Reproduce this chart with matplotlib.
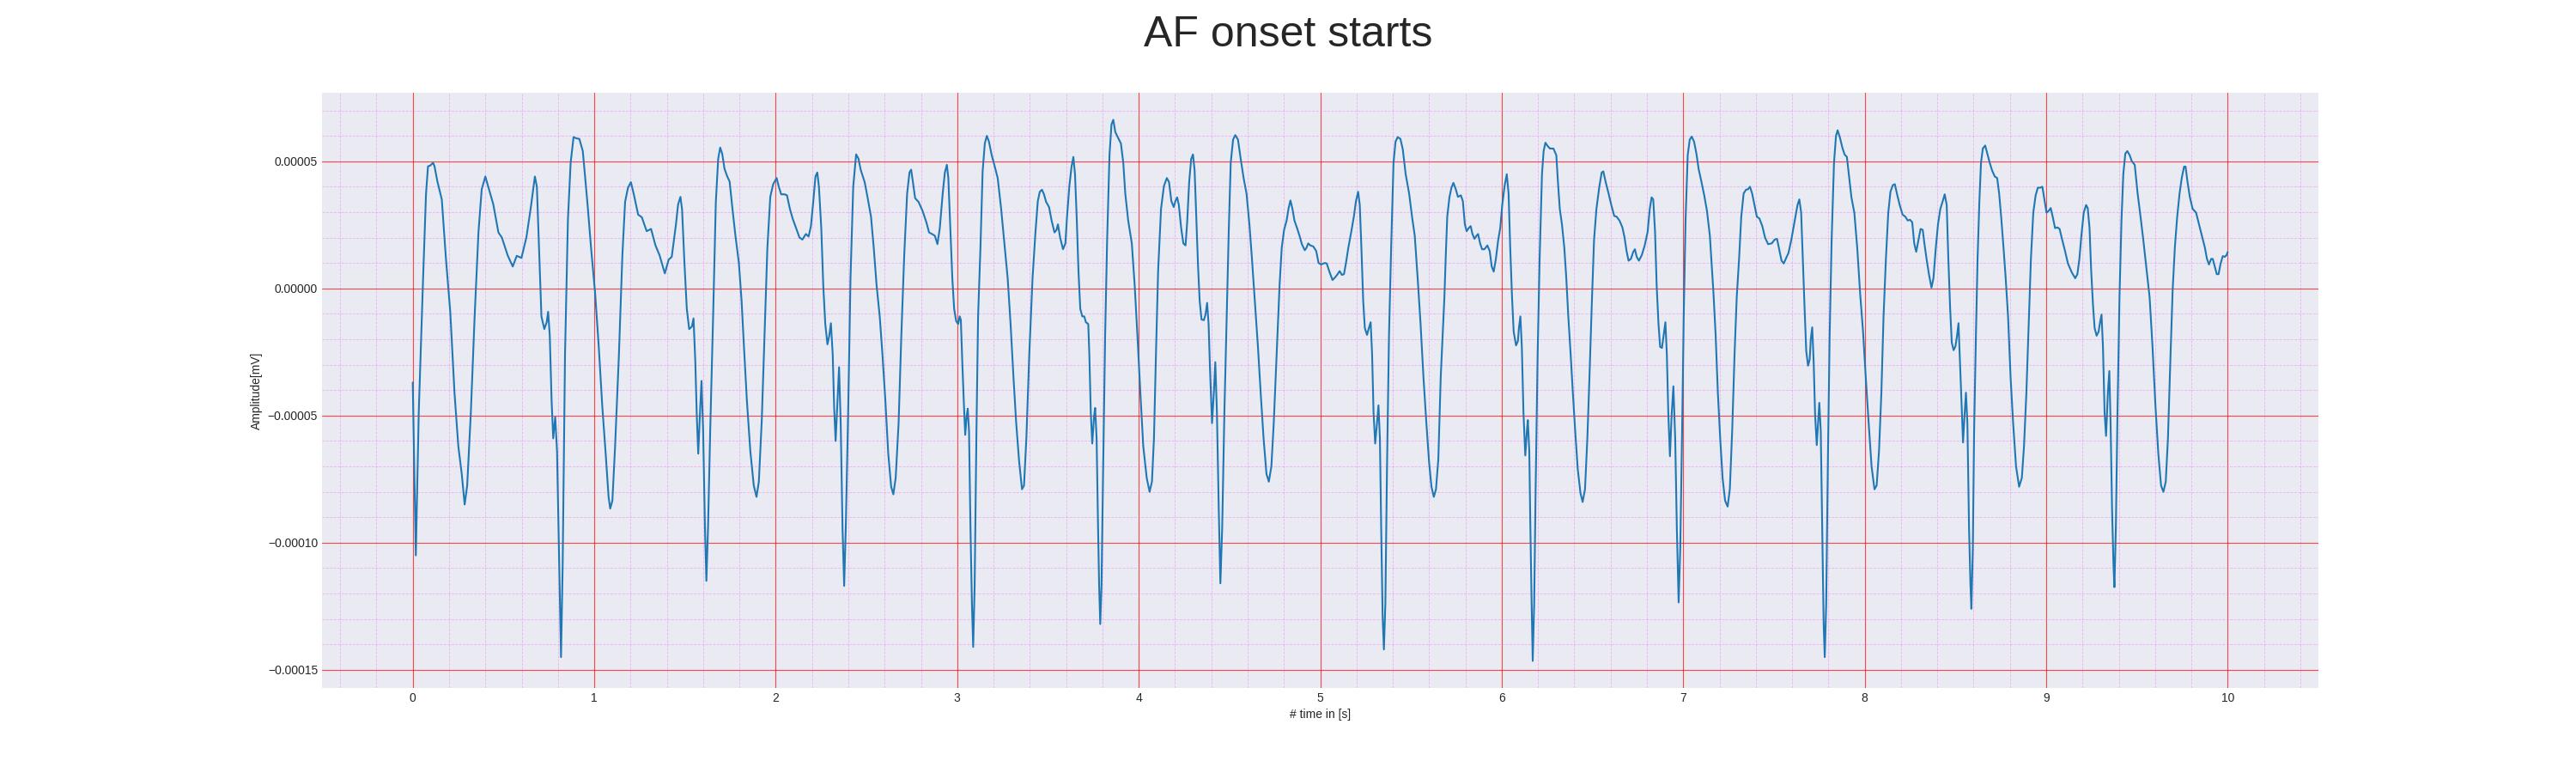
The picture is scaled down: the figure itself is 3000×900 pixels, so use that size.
import numpy as np
from matplotlib import pyplot

# 時間 [s]
time_s = [
    0.000, 0.017, 0.033, 0.057, 0.073, 0.084, 0.096, 0.112, 0.120, 0.136,
    0.160, 0.183, 0.207, 0.230, 0.251, 0.270, 0.286, 0.300, 0.320, 0.341,
    0.362, 0.380, 0.400, 0.420, 0.444, 0.472, 0.491, 0.523, 0.551, 0.573,
    0.599, 0.626, 0.649, 0.673, 0.684, 0.697, 0.709, 0.725, 0.738, 0.746,
    0.755, 0.765, 0.774, 0.785, 0.795, 0.807, 0.817, 0.826, 0.839, 0.855,
    0.870, 0.886, 0.902, 0.918, 0.937, 0.962, 0.984, 1.005, 1.025, 1.044,
    1.063, 1.079, 1.088, 1.100, 1.115, 1.136, 1.155, 1.170, 1.186, 1.202,
    1.218, 1.242, 1.262, 1.289, 1.313, 1.337, 1.360, 1.389, 1.410, 1.427,
    1.450, 1.462, 1.475, 1.484, 1.497, 1.510, 1.523, 1.538, 1.547, 1.557,
    1.565, 1.573, 1.582, 1.591, 1.600, 1.610, 1.618, 1.627, 1.639, 1.655,
    1.670, 1.683, 1.694, 1.705, 1.718, 1.733, 1.746, 1.762, 1.778, 1.797,
    1.812, 1.825, 1.841, 1.860, 1.879, 1.894, 1.907, 1.923, 1.938, 1.954,
    1.970, 1.986, 2.005, 2.017, 2.030, 2.049, 2.062, 2.077, 2.093, 2.112,
    2.131, 2.147, 2.166, 2.181, 2.194, 2.207, 2.219, 2.229, 2.238, 2.251,
    2.262, 2.273, 2.285, 2.295, 2.304, 2.314, 2.322, 2.330, 2.339, 2.349,
    2.358, 2.368, 2.377, 2.386, 2.399, 2.412, 2.427, 2.443, 2.456, 2.468,
    2.490, 2.506, 2.525, 2.540, 2.556, 2.573, 2.588, 2.604, 2.620, 2.636,
    2.648, 2.661, 2.677, 2.692, 2.708, 2.724, 2.737, 2.746, 2.756, 2.768,
    2.787, 2.809, 2.830, 2.845, 2.861, 2.877, 2.891, 2.904, 2.920, 2.932,
    2.943, 2.951, 2.962, 2.973, 2.983, 2.994, 3.005, 3.014, 3.020, 3.028,
    3.036, 3.044, 3.052, 3.058, 3.065, 3.073, 3.081, 3.088, 3.096, 3.106,
    3.115, 3.128, 3.140, 3.152, 3.163, 3.175, 3.190, 3.207, 3.223, 3.242,
    3.262, 3.278, 3.294, 3.310, 3.325, 3.341, 3.357, 3.368, 3.381, 3.397,
    3.415, 3.431, 3.444, 3.455, 3.467, 3.478, 3.490, 3.506, 3.520, 3.536,
    3.547, 3.555, 3.567, 3.583, 3.596, 3.605, 3.618, 3.630, 3.640, 3.649,
    3.659, 3.668, 3.678, 3.689, 3.700, 3.709, 3.722, 3.728, 3.736, 3.744,
    3.754, 3.760, 3.768, 3.776, 3.782, 3.788, 3.795, 3.804, 3.815, 3.826,
    3.839, 3.850, 3.860, 3.871, 3.883, 3.902, 3.915, 3.926, 3.942, 3.962,
    3.978, 3.994, 4.009, 4.025, 4.044, 4.060, 4.073, 4.084, 4.095, 4.107,
    4.123, 4.139, 4.155, 4.167, 4.180, 4.193, 4.202, 4.212, 4.221, 4.234,
    4.246, 4.258, 4.267, 4.278, 4.289, 4.299, 4.308, 4.317, 4.327, 4.336,
    4.346, 4.359, 4.368, 4.377, 4.385, 4.393, 4.404, 4.414, 4.422, 4.431,
    4.441, 4.450, 4.460, 4.472, 4.485, 4.496, 4.507, 4.520, 4.532, 4.547,
    4.562, 4.578, 4.594, 4.610, 4.624, 4.640, 4.657, 4.672, 4.688, 4.704,
    4.717, 4.731, 4.744, 4.760, 4.776, 4.788, 4.801, 4.815, 4.826, 4.836,
    4.847, 4.858, 4.874, 4.886, 4.899, 4.915, 4.924, 4.934, 4.946, 4.962,
    4.978, 4.991, 5.005, 5.025, 5.036, 5.052, 5.068, 5.084, 5.096, 5.107,
    5.120, 5.131, 5.142, 5.155, 5.171, 5.186, 5.197, 5.209, 5.218, 5.227,
    5.237, 5.246, 5.258, 5.268, 5.278, 5.286, 5.294, 5.303, 5.313, 5.321,
    5.329, 5.336, 5.344, 5.351, 5.359, 5.368, 5.379, 5.392, 5.404, 5.415,
    5.427, 5.442, 5.455, 5.471, 5.490, 5.506, 5.521, 5.537, 5.553, 5.569,
    5.585, 5.600, 5.613, 5.626, 5.638, 5.651, 5.664, 5.676, 5.684, 5.692,
    5.700, 5.712, 5.723, 5.734, 5.747, 5.759, 5.775, 5.786, 5.797, 5.807,
    5.818, 5.829, 5.839, 5.850, 5.861, 5.870, 5.881, 5.892, 5.905, 5.921,
    5.934, 5.945, 5.956, 5.968, 5.981, 5.992, 6.003, 6.016, 6.028, 6.038,
    6.047, 6.057, 6.066, 6.079, 6.089, 6.095, 6.103, 6.111, 6.120, 6.130,
    6.139, 6.144, 6.152, 6.158, 6.165, 6.171, 6.179, 6.187, 6.198, 6.209,
    6.222, 6.231, 6.241, 6.253, 6.266, 6.285, 6.301, 6.310, 6.320, 6.332,
    6.345, 6.356, 6.367, 6.380, 6.392, 6.405, 6.419, 6.434, 6.446, 6.459,
    6.472, 6.484, 6.497, 6.509, 6.522, 6.538, 6.551, 6.560, 6.573, 6.589,
    6.604, 6.620, 6.633, 6.649, 6.665, 6.677, 6.688, 6.699, 6.712, 6.725,
    6.734, 6.744, 6.756, 6.772, 6.788, 6.804, 6.816, 6.826, 6.835, 6.845,
    6.854, 6.864, 6.873, 6.883, 6.892, 6.902, 6.910, 6.918, 6.927, 6.937,
    6.946, 6.956, 6.965, 6.975, 6.984, 6.994, 7.003, 7.013, 7.025, 7.036,
    7.047, 7.060, 7.073, 7.085, 7.101, 7.116, 7.131, 7.147, 7.167, 7.179,
    7.191, 7.204, 7.217, 7.231, 7.245, 7.257, 7.270, 7.283, 7.295, 7.308,
    7.320, 7.333, 7.346, 7.357, 7.368, 7.380, 7.393, 7.406, 7.420, 7.436,
    7.451, 7.468, 7.488, 7.504, 7.517, 7.529, 7.542, 7.554, 7.567, 7.580,
    7.596, 7.615, 7.630, 7.640, 7.650, 7.659, 7.669, 7.678, 7.688, 7.697,
    7.703, 7.711, 7.719, 7.727, 7.736, 7.744, 7.750, 7.758, 7.766, 7.774,
    7.780, 7.788, 7.798, 7.807, 7.818, 7.831, 7.842, 7.851, 7.864, 7.877,
    7.889, 7.902, 7.915, 7.927, 7.943, 7.959, 7.975, 7.991, 8.006, 8.022,
    8.038, 8.054, 8.066, 8.079, 8.092, 8.104, 8.117, 8.130, 8.142, 8.155,
    8.166, 8.180, 8.193, 8.209, 8.224, 8.237, 8.250, 8.262, 8.273, 8.284,
    8.297, 8.308, 8.320, 8.329, 8.341, 8.354, 8.368, 8.379, 8.392, 8.404,
    8.417, 8.430, 8.441, 8.452, 8.461, 8.471, 8.480, 8.490, 8.500, 8.509,
    8.517, 8.525, 8.535, 8.542, 8.550, 8.558, 8.566, 8.575, 8.583, 8.588,
    8.596, 8.603, 8.613, 8.622, 8.632, 8.641, 8.651, 8.664, 8.676, 8.689,
    8.702, 8.717, 8.730, 8.741, 8.752, 8.765, 8.777, 8.790, 8.804, 8.818,
    8.834, 8.851, 8.866, 8.878, 8.891, 8.904, 8.916, 8.929, 8.942, 8.954,
    8.967, 8.979, 8.992, 9.002, 9.014, 9.025, 9.036, 9.049, 9.062, 9.074,
    9.088, 9.104, 9.120, 9.141, 9.160, 9.172, 9.183, 9.194, 9.207, 9.220,
    9.229, 9.239, 9.248, 9.258, 9.267, 9.278, 9.289, 9.297, 9.305, 9.313,
    9.322, 9.330, 9.340, 9.348, 9.355, 9.363, 9.371, 9.376, 9.384, 9.393,
    9.404, 9.415, 9.425, 9.436, 9.447, 9.460, 9.472, 9.488, 9.504, 9.520,
    9.535, 9.554, 9.570, 9.586, 9.602, 9.618, 9.633, 9.646, 9.659, 9.671,
    9.684, 9.697, 9.709, 9.722, 9.735, 9.747, 9.760, 9.768, 9.779, 9.792,
    9.807, 9.826, 9.842, 9.858, 9.874, 9.886, 9.897, 9.909, 9.918, 9.929,
    9.940, 9.950, 9.960, 9.973, 9.984, 9.994, 10.000,
]

# 振幅 [1e-5 mV]
amp_1e5 = [
    -3.7, -10.5, -4.9, 0.4, 3.7, 4.8, 4.83, 4.94, 4.8, 4.2,
    3.5, 1.16, -0.95, -4.1, -6.2, -7.3, -8.5, -7.75, -4.9, -1.1,
    2.2, 3.9, 4.4, 3.9, 3.3, 2.2, 2.0, 1.3, 0.86, 1.28,
    1.2, 2.0, 3.1, 4.4, 4.0, 1.3, -1.1, -1.6, -1.33, -0.92,
    -1.86, -4.4, -5.9, -5.06, -6.4, -10.9, -14.5, -10.9, -2.6, 2.7,
    4.94, 5.95, 5.9, 5.88, 5.4, 3.4, 1.47, -0.2, -2.3, -4.6,
    -6.5, -8.2, -8.66, -8.35, -6.2, -2.6, 1.3, 3.4, 3.96, 4.18,
    3.7, 2.9, 2.8, 2.25, 2.34, 1.7, 1.3, 0.59, 1.13, 1.24,
    2.5, 3.3, 3.6, 3.1, 1.0, -0.8, -1.6, -1.5, -1.18, -2.9,
    -5.0, -6.5, -5.0, -3.64, -5.6, -9.4, -11.5, -9.4, -5.6, -1.1,
    3.4, 5.1, 5.54, 5.3, 4.7, 4.4, 4.2, 3.1, 2.07, 1.0,
    -0.5, -2.3, -4.4, -6.4, -7.75, -8.2, -7.6, -5.2, -1.86, 1.6,
    3.6, 4.1, 4.34, 4.0, 3.7, 3.7, 3.66, 3.16, 2.75, 2.37,
    2.0, 1.92, 2.14, 2.04, 2.45, 3.43, 4.4, 4.56, 4.0, 2.37,
    0.1, -1.4, -2.2, -1.86, -1.37, -2.6, -4.7, -6.0, -4.6, -3.1,
    -5.3, -9.4, -11.7, -9.4, -4.9, 0.4, 4.0, 5.27, 5.1, 4.67,
    4.18, 3.58, 2.82, 1.6, 0.1, -1.1, -2.6, -4.4, -6.5, -7.8,
    -8.1, -7.45, -5.3, -1.86, 1.3, 3.73, 4.56, 4.67, 4.18, 3.55,
    3.4, 3.05, 2.6, 2.2, 2.14, 2.07, 1.74, 2.37, 3.73, 4.56,
    4.86, 4.34, 2.37, 0.4, -0.8, -1.28, -1.4, -1.1, -1.25, -2.9,
    -4.4, -5.76, -5.03, -4.73, -5.6, -9.4, -12.4, -14.1, -11.7, -5.6,
    -1.1, 1.6, 4.6, 5.7, 6.0, 5.77, 5.24, 4.79, 4.34, 3.13,
    1.6, 0.4, -1.4, -3.5, -5.3, -6.8, -7.9, -7.75, -5.9, -2.6,
    0.4, 2.2, 3.43, 3.8, 3.88, 3.7, 3.4, 3.2, 2.67, 2.2,
    2.3, 2.52, 2.0, 1.54, 1.77, 2.82, 4.03, 4.79, 5.17, 4.49,
    2.67, 0.7, -0.8, -1.1, -1.1, -1.33, -1.4, -2.6, -4.9, -6.1,
    -5.03, -4.7, -5.9, -9.4, -11.7, -13.2, -11.7, -7.1, -1.86, 1.9,
    5.24, 6.45, 6.63, 6.15, 5.97, 5.7, 4.94, 3.73, 2.67, 1.77,
    0.1, -2.0, -4.1, -6.2, -7.45, -8.0, -7.6, -5.9, -2.6, 0.7,
    3.13, 4.03, 4.34, 4.18, 3.43, 3.2, 3.43, 3.58, 3.28, 2.37,
    1.77, 1.69, 2.6, 4.18, 5.09, 5.27, 4.64, 2.82, 0.86, -0.5,
    -1.22, -1.25, -1.03, -0.57, -1.4, -3.2, -5.3, -4.1, -2.9, -4.9,
    -8.66, -11.6, -9.4, -4.9, -1.1, 2.22, 4.94, 5.85, 6.03, 5.85,
    5.09, 4.34, 3.73, 2.52, 1.16, -0.5, -2.3, -4.1, -5.9, -7.3,
    -7.6, -7.0, -5.3, -2.6, 0.1, 1.6, 2.3, 2.67, 3.16, 3.46,
    3.13, 2.67, 2.34, 2.07, 1.74, 1.5, 1.59, 1.77, 1.69, 1.65,
    1.47, 1.0, 0.94, 1.0, 0.98, 0.63, 0.33, 0.45, 0.56, 0.68,
    0.53, 0.56, 1.0, 1.6, 2.22, 2.85, 3.43, 3.8, 3.28, 1.6,
    -0.5, -1.56, -1.83, -1.56, -1.33, -2.6, -4.9, -6.1, -5.3, -4.6,
    -5.9, -9.4, -12.9, -14.2, -12.4, -7.1, -1.86, 1.9, 4.94, 5.77,
    5.95, 5.88, 5.47, 4.49, 3.73, 2.82, 2.07, 0.4, -1.4, -3.5,
    -5.3, -6.84, -7.8, -8.2, -7.9, -6.7, -3.5, -1.6, -0.4, 1.3,
    2.82, 3.58, 3.96, 4.15, 3.9, 3.6, 3.66, 3.43, 2.52, 2.25,
    2.37, 2.45, 2.14, 1.95, 2.07, 2.14, 1.77, 1.54, 1.54, 1.69,
    1.47, 0.86, 0.66, 1.16, 1.92, 2.37, 3.28, 4.03, 4.49, 3.73,
    1.6, -0.35, -1.7, -2.24, -2.08, -1.56, -1.1, -2.3, -4.9, -6.57,
    -5.6, -5.18, -6.4, -9.4, -12.4, -14.65, -12.4, -7.9, -2.6, 1.16,
    4.49, 5.4, 5.73, 5.6, 5.5, 5.5, 5.24, 4.18, 3.13, 2.52,
    1.6, 0.4, -1.1, -2.6, -4.1, -5.6, -7.1, -8.05, -8.4, -7.9,
    -5.9, -3.4, -0.5, 1.92, 3.13, 4.0, 4.56, 4.6, 4.18, 3.73,
    3.28, 2.85, 2.82, 2.67, 2.4, 2.0, 1.47, 1.09, 1.16, 1.44,
    1.54, 1.24, 1.09, 1.31, 1.69, 2.22, 3.13, 3.58, 3.5, 2.22,
    0.1, -1.4, -2.3, -2.34, -1.86, -1.33, -2.6, -4.9, -6.6, -4.9,
    -3.85, -5.9, -9.4, -12.35, -10.2, -5.6, -1.1, 2.67, 5.24, 5.85,
    5.97, 5.77, 5.3, 4.7, 4.18, 3.66, 3.05, 2.07, -0.2, -1.86,
    -4.1, -5.9, -7.45, -8.35, -8.58, -7.9, -5.6, -2.6, -0.35, 1.16,
    2.82, 3.73, 3.88, 3.9, 4.0, 3.73, 3.28, 2.82, 2.75, 2.45,
    2.0, 1.74, 1.77, 1.92, 1.95, 1.54, 1.09, 0.98, 1.19, 1.39,
    1.92, 2.67, 3.28, 3.5, 2.98, 1.16, -0.8, -2.46, -3.04, -2.8,
    -2.0, -1.53, -2.9, -5.0, -6.16, -5.18, -4.5, -5.6, -9.4, -13.2,
    -14.5, -12.4, -6.4, -1.86, 1.92, 4.94, 6.0, 6.22, 5.92, 5.54,
    5.27, 5.17, 4.34, 3.58, 2.98, 1.6, -0.2, -1.7, -3.5, -5.3,
    -7.0, -7.9, -7.75, -6.4, -4.1, -1.1, 1.16, 2.98, 3.8, 4.06,
    4.1, 3.66, 3.28, 2.9, 2.82, 2.67, 2.7, 2.6, 1.77, 1.44,
    1.92, 2.34, 2.3, 1.77, 1.16, 0.56, 0.03, 0.4, 1.6, 2.52,
    3.13, 3.43, 3.7, 3.28, 1.16, -0.8, -2.13, -2.43, -2.28, -1.86,
    -1.37, -2.9, -4.9, -6.06, -5.03, -4.1, -5.3, -9.4, -11.7, -12.6,
    -10.2, -5.6, -1.86, 1.16, 3.43, 4.94, 5.5, 5.62, 5.3, 4.94,
    4.64, 4.4, 4.34, 3.73, 2.82, 1.6, 0.4, -1.1, -3.5, -5.3,
    -7.0, -7.8, -7.45, -6.2, -4.1, -1.4, 1.16, 2.98, 3.66, 3.96,
    3.96, 4.0, 3.43, 2.98, 3.05, 3.16, 2.82, 2.37, 2.4, 2.34,
    1.92, 1.47, 0.98, 0.63, 0.4, 0.56, 1.16, 2.07, 2.98, 3.28,
    3.16, 2.37, 0.7, -0.65, -1.56, -1.86, -1.7, -1.33, -1.03, -2.3,
    -4.9, -5.8, -4.1, -3.25, -5.3, -8.66, -10.9, -11.75, -9.4, -4.9,
    -0.35, 2.67, 4.49, 5.3, 5.4, 5.24, 5.0, 4.86, 3.73, 2.82,
    1.92, 0.7, -0.35, -2.3, -4.6, -6.5, -7.75, -8.0, -7.6, -5.9,
    -2.9, -0.05, 1.6, 2.82, 3.73, 4.34, 4.79, 4.79, 4.18, 3.58,
    3.13, 2.98, 2.52, 2.07, 1.62, 1.16, 0.94, 1.16, 1.16, 0.86,
    0.56, 0.56, 0.94, 1.27, 1.24, 1.31, 1.43,
]

# x軸の目盛り
x_ticks = list(range(0, 11))


def make_graph():
    pyplot.style.use("seaborn-v0_8-darkgrid")

    t = np.array(time_s)
    amp = np.array(amp_1e5) * 1e-5

    fig = pyplot.figure(figsize=(30, 9), dpi=100)
    ax = fig.add_subplot(1, 1, 1)
    ax.plot(t, amp)

    # グリッドの設定
    ax.set_xticks(x_ticks)
    ax.minorticks_on()
    ax.grid(which="major", linestyle="-", linewidth=0.8, color="red", alpha=0.7)
    ax.grid(which="minor", linestyle="--", linewidth=0.6, color="violet", alpha=0.55)

    ax.set_xlabel("# time in [s]")
    ax.set_ylabel("Amplitude[mV]")
    fig.suptitle("AF onset starts", fontsize=36)

    fig.savefig("out.png")


#-------------
#メイン関数
#-------------
if __name__ == "__main__":

    make_graph()
